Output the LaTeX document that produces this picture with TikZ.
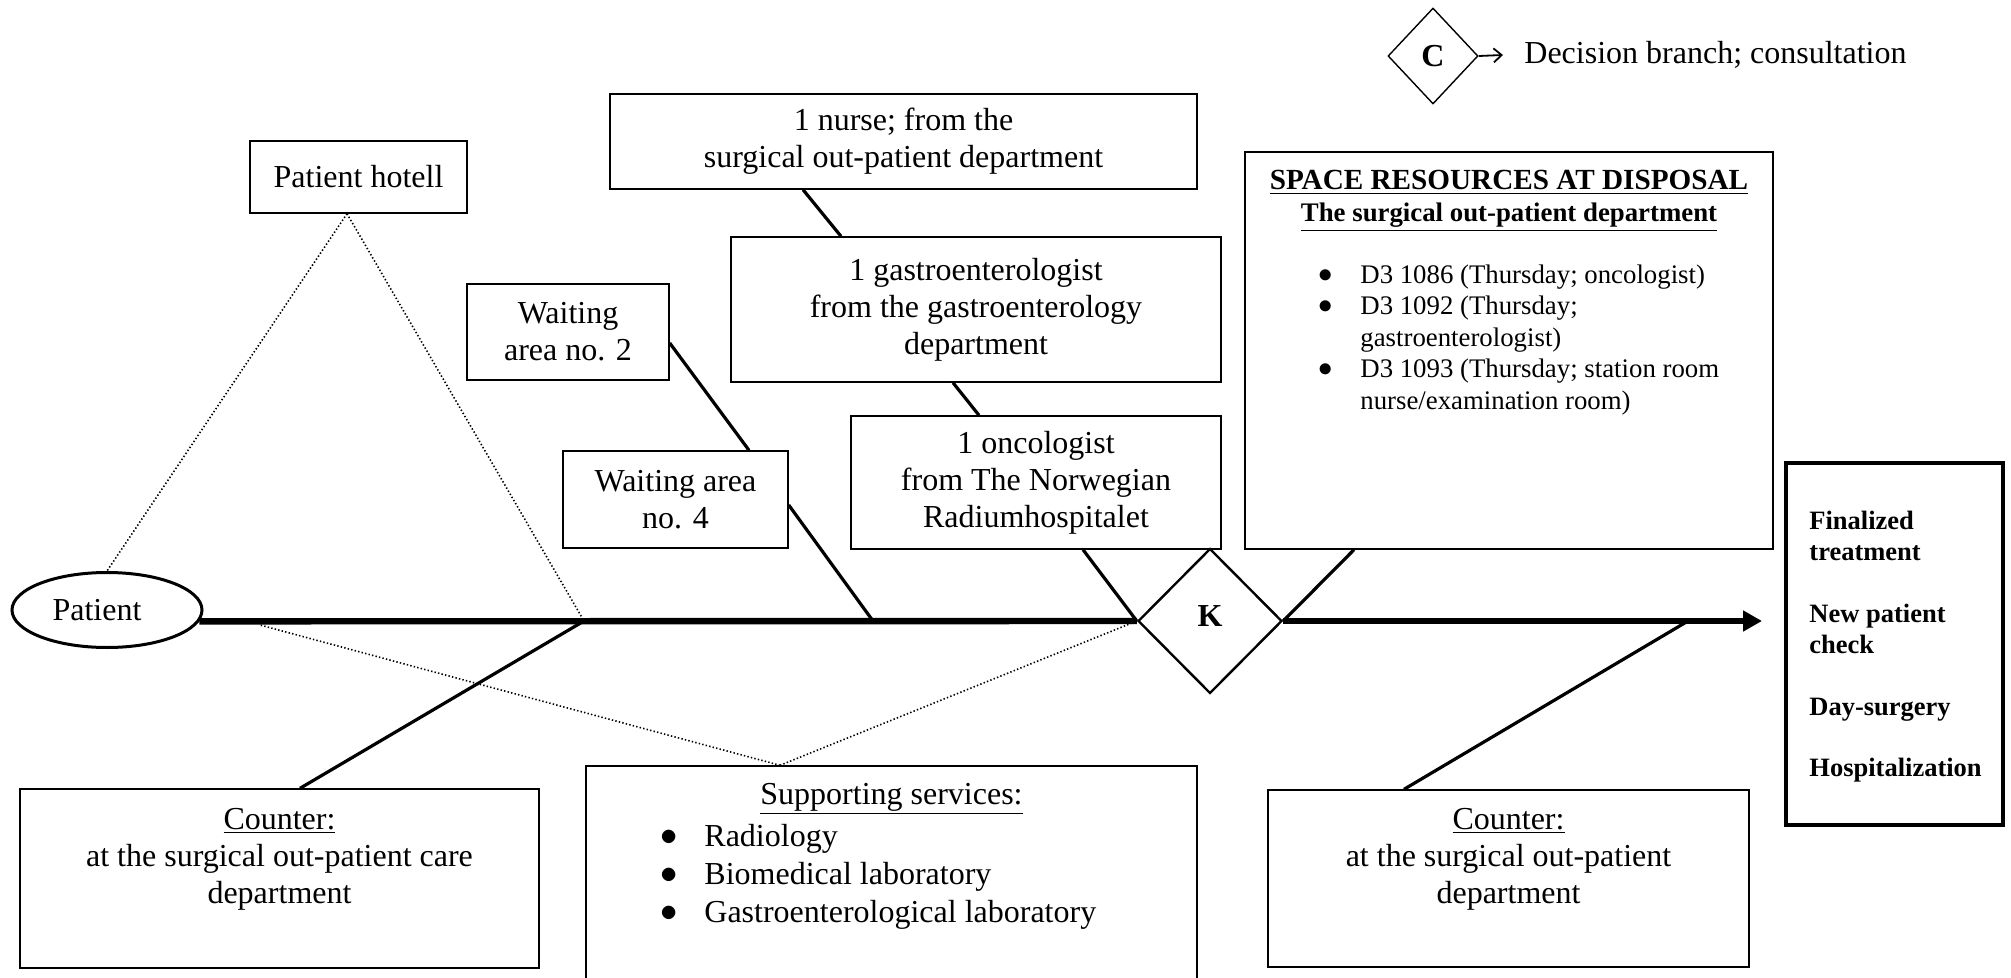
\documentclass[tikz,border=0pt]{standalone}
\usepackage{fontspec}
\setmainfont{Liberation Serif}
\usetikzlibrary{shapes.geometric,arrows.meta,calc}
\newcommand\fsz[2]{\fontsize{#1pt}{#2pt}\selectfont}
\newcommand\bul{\raisebox{0.5pt}{$\bullet$}}
\begin{document}
\begin{tikzpicture}[x=0.5pt,y=-0.5pt,
  box/.style={draw,line width=0.7pt,inner sep=0pt,align=center,font=\fsz{16}{18.5}},
  txt/.style={inner sep=0pt,align=center,font=\fsz{16}{18.5}},
  conn/.style={line width=1.6pt},
  dots/.style={line width=0.8pt,dash pattern=on 0.7pt off 1.1pt},
  mainline/.style={line width=3.2pt}]
\useasboundingbox (0,0) rectangle (2011,978);

% boxes
\node[box,minimum width=108.5pt,minimum height=36pt] (hotel) at (358.5,177) {Patient hotell};
\node[box,minimum width=101pt,minimum height=48pt] (wait2) at (568,332) {Waiting\\area no. 2};
\node[box,minimum width=112.5pt,minimum height=48.5pt] (wait4) at (675.5,499.5) {Waiting area\\no. 4};
\node[box,minimum width=293.5pt,minimum height=47.5pt] (nurse) at (903.5,141.5) {1 nurse; from the\\surgical out-patient department};
\node[box,minimum width=245pt,minimum height=72.5pt] (gastro) at (976,309.5) {1 gastroenterologist\\from the gastroenterology\\department};
\node[box,minimum width=185pt,minimum height=66.5pt] (onco) at (1036,482.5) {1 oncologist\\from The Norwegian\\Radiumhospitalet};
\node[box,minimum width=264pt,minimum height=198.5pt] (space) at (1509,350.5) {};
\node[box,line width=2pt,minimum width=108.5pt,minimum height=181pt] (out) at (1894.5,644) {};
\node[box,minimum width=259.5pt,minimum height=89.5pt] (cntL) at (279.5,878.5) {};
\node[box,minimum width=305.5pt,minimum height=112pt] (supp) at (891.5,878) {};
\node[box,minimum width=240.5pt,minimum height=88.5pt] (cntR) at (1508.5,878.5) {};
\node[draw,ellipse,line width=1.5pt,minimum width=95pt,minimum height=37.5pt,inner sep=0pt,font=\fsz{16}{18.5}] (pat) at (107,610) {Patient\hspace*{10pt}};
\node[draw,diamond,line width=1.2pt,minimum width=72pt,minimum height=72.5pt,inner sep=0pt,font=\fsz{16}{18.5}\bfseries] (K) at (1210,621) {\raisebox{4.5pt}{K}};
\node[draw,diamond,line width=0.7pt,minimum width=45pt,minimum height=48pt,inner sep=0pt,font=\fsz{16}{18.5}\bfseries] (C) at (1433,56) {C};

% legend
\node[txt,anchor=west] (leg) at (1524,55) {Decision branch; consultation};
\draw[line width=0.9pt,-{Straight Barb[length=4pt,width=7pt]}] (C.east) -- ([xshift=-10.5pt]leg.west);

% texts in boxes
\node[txt,anchor=base,font=\fsz{14.6}{16}\bfseries] (sp1) at (1509,190) {\underline{SPACE RESOURCES AT DISPOSAL}};
\node[txt,anchor=base,font=\fsz{13.4}{15}\bfseries] (sp2) at (1509,222) {\underline{The surgical out-patient department}};
\node[txt,anchor=west,align=left,font=\fsz{13.4}{15.75}] (sp3) at (1318,340) {%
\makebox[21pt][l]{\bul}D3 1086 (Thursday; oncologist)\\
\makebox[21pt][l]{\bul}D3 1092 (Thursday;\\
\hspace*{21pt}gastroenterologist)\\
\makebox[21pt][l]{\bul}D3 1093 (Thursday; station room\\
\hspace*{21pt}nurse/examination room)};
\node[txt,anchor=west,align=left,font=\fsz{13.25}{15.5}\bfseries] (outt) at (1809,647) {Finalized\\treatment\\[15.5pt]New patient\\check\\[15.5pt]Day-surgery\\[15pt]Hospitalization};
\node[txt] (tL) at (279.5,859) {\underline{Counter:}\\at the surgical out-patient care\\department};
\node[txt] (tR) at (1508.5,859) {\underline{Counter:}\\at the surgical out-patient\\department};
\node[txt] (tS) at (891.5,799) {\underline{Supporting services:}};
\node[txt,anchor=west,align=left,font=\fsz{16}{19}] (tS2) at (660,877) {%
\makebox[22pt][l]{\bul}Radiology\\
\makebox[22pt][l]{\bul}Biomedical laboratory\\
\makebox[22pt][l]{\bul}Gastroenterological laboratory};

% points on main line
\coordinate (A) at (584,621);
\coordinate (B) at (873,621);
\coordinate (Cc) at (1688,621);
\coordinate (D) at (260,625);
\coordinate (E) at (1762,621);

% main line
\draw[mainline] (pat.-7) -- (K.west);
\draw[mainline,-{Triangle[length=9.5pt,width=10pt]}] (K.east) -- (E);

% connectors
\draw[conn] ([yshift=-5.5pt]wait2.east) -- ([xshift=36.75pt]wait4.north);
\draw[conn] ([yshift=-2.75pt]wait4.east) -- (B);
\draw[conn] ([xshift=-50.25pt]nurse.south) -- ([xshift=-67.5pt]gastro.north);
\draw[conn] ([xshift=-11.5pt]gastro.south) -- ([xshift=-28.5pt]onco.north);
\draw[conn] ([xshift=23.5pt]onco.south) -- (K.west);
\draw[conn] ([xshift=-77.5pt]space.south) -- (K.east);
\draw[conn] ([xshift=10.25pt]cntL.north) -- (A);
\draw[conn] ([xshift=-52.25pt]cntR.north) -- (Cc);

% dotted
\draw[dots] ([xshift=-5.75pt]hotel.south) -- (pat.north);
\draw[dots] ([xshift=-5.75pt]hotel.south) -- (A);
\draw[dots] ([xshift=-55.75pt]supp.north) -- (D);
\draw[dots] ([xshift=-55.75pt]supp.north) -- (K.west);
\end{tikzpicture}
\end{document}
